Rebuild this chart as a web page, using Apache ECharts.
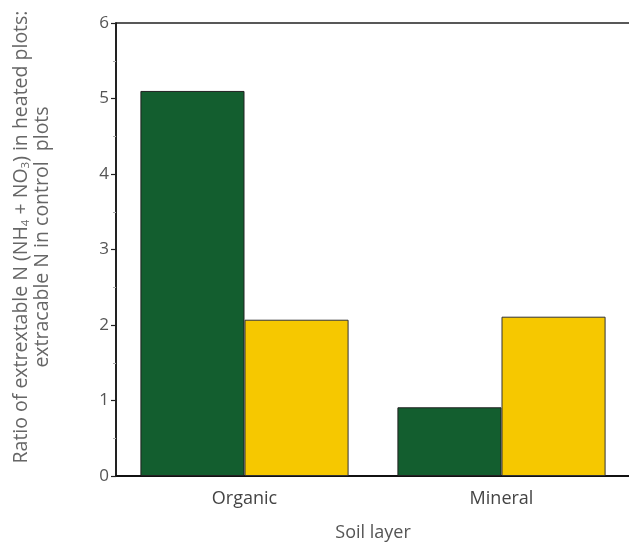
<!DOCTYPE html>
<html>
<head>
<meta charset="utf-8">
<script src="https://cdn.jsdelivr.net/npm/echarts@6/dist/echarts.min.js"></script>
<style>
  html, body { margin: 0; padding: 0; background: #fff; }
  #chart { width: 629px; height: 545px; }
</style>
</head>
<body>
<div id="chart"></div>
<script>
const layers = ['Organic', 'Mineral'];
const greenValues = [5.10, 0.91];
const yellowValues = [2.07, 2.11];
const yTicks = [0, 1, 2, 3, 4, 5, 6];

const mChart = echarts.init(document.getElementById('chart'));
const textFont = '"Open Sans", "DejaVu Sans", sans-serif';

const option = {
  animation: false,
  grid: {
    left: 116, top: 23, width: 514, height: 453,
    outerBoundsMode: 'none',
    containLabel: false,
    show: true, borderColor: '#222', borderWidth: 1.5
  },
  graphic: [{
    type: 'text',
    x: 32, y: 237,
    rotation: Math.PI / 2,
    style: {
      text: '{t|Ratio of extrextable N (NH}{s|4}{t| + NO}{s|3}{t|) in heated plots:}\n{t|extracable N in control  plots}',
      align: 'center',
      verticalAlign: 'middle',
      rich: {
        t: { fontFamily: textFont, fontSize: 19.5, fill: '#666', lineHeight: 21, align: 'center' },
        s: { fontFamily: textFont, fontSize: 11.5, fill: '#666', lineHeight: 21, padding: [8, 0, 0, 0] }
      }
    }
  }],
  xAxis: {
    type: 'category',
    data: layers,
    name: 'Soil layer',
    nameLocation: 'middle',
    nameGap: 48,
    nameTextStyle: { fontFamily: textFont, fontSize: 18, color: '#555' },
    axisLine: { lineStyle: { color: '#111', width: 2 } },
    axisTick: { alignWithLabel: true, length: 7, lineStyle: { color: '#222', width: 1.5 } },
    axisLabel: { margin: 14, fontFamily: textFont, fontSize: 18, color: '#444' }
  },
  yAxis: {
    type: 'value',
    min: 0, max: 6, interval: 1,
    axisLine: { show: true, lineStyle: { color: '#111', width: 1.5 } },
    axisTick: { show: true, length: 5, lineStyle: { color: '#222', width: 1.2 } },
    minorTick: { show: true, splitNumber: 2, length: 3, lineStyle: { color: '#aaa' } },
    splitLine: { show: false },
    axisLabel: {
      margin: 7, fontFamily: textFont, fontSize: 17, color: '#555',
      formatter: v => yTicks.includes(v) ? String(v) : ''
    }
  },
  series: [
    {
      type: 'bar',
      data: greenValues,
      barGap: '0%',
      barCategoryGap: '19%',
      itemStyle: { color: '#135e2f', borderColor: '#222', borderWidth: 1 }
    },
    {
      type: 'bar',
      data: yellowValues,
      barGap: '0%',
      barCategoryGap: '19%',
      itemStyle: { color: '#f6c800', borderColor: '#333', borderWidth: 1 }
    }
  ]
};

mChart.setOption(option);
</script>
</body>
</html>
